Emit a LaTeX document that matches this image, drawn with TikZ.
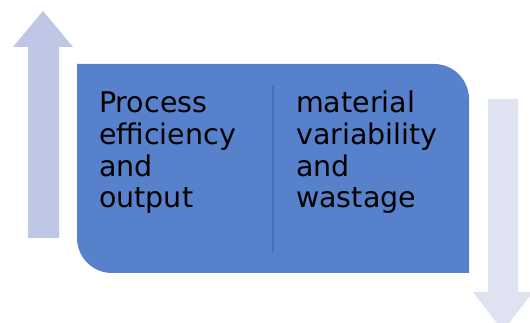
\documentclass[tikz,border=0pt]{standalone}
\usepackage{fontspec}
\setmainfont{DejaVu Sans}
\definecolor{boxblue}{RGB}{87,129,202}
\definecolor{upcol}{RGB}{190,200,228}
\definecolor{downcol}{RGB}{223,227,241}
\definecolor{divcol}{RGB}{70,110,190}
\tikzset{
  lbl/.style={anchor=base west, align=left, inner sep=0pt, font=\fontsize{28.5}{31.7}\selectfont, text=black}
}
\begin{document}
\begin{tikzpicture}[x=1pt,y=1pt]
\useasboundingbox (0,0) rectangle (530,323);
\clip (0,0) rectangle (530,323);
% up arrow
\fill[upcol] (28,85) -- (28,276) -- (13,276) -- (43,312) -- (73,276) -- (59,276) -- (59,85) -- cycle;
% down arrow
\fill[downcol] (488,224) -- (488,31) -- (473,31) -- (503,-8) -- (533,31) -- (518,31) -- (518,224) -- cycle;
% main box
\fill[boxblue] (77,259) -- (434,259) arc[start angle=90, end angle=0, radius=35] -- (469,50) -- (112,50) arc[start angle=270, end angle=180, radius=35] -- cycle;
\coordinate (dtop) at (273,238);
\coordinate (dbot) at (273,71);
\draw[divcol, line width=1.5pt] (dtop) -- (dbot);
\node[lbl] (left) at (99,115) {Process\\efficiency\\and\\output};
\node[lbl] (right) at (296,115) {material\\variability\\and\\wastage};
\end{tikzpicture}
\end{document}
